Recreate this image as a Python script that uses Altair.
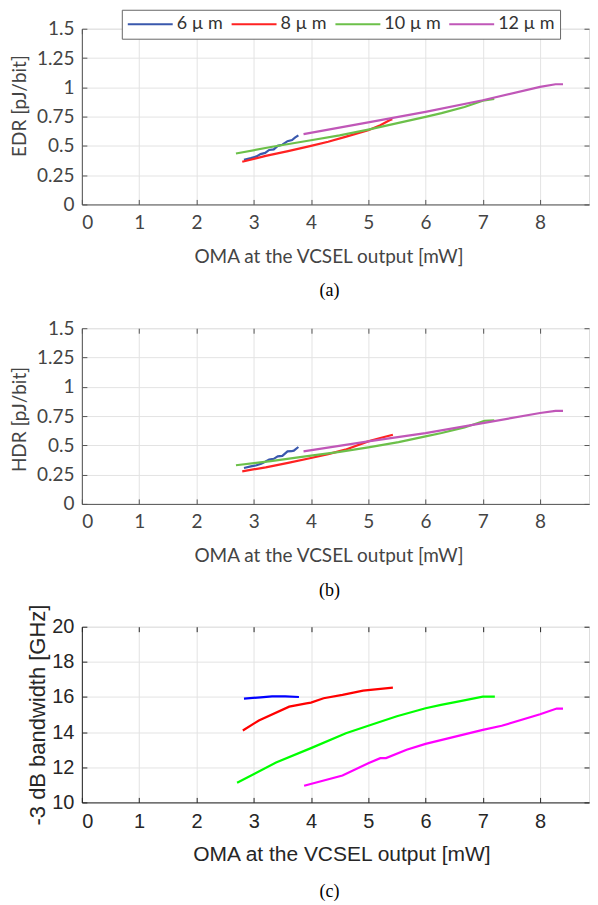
import altair as alt
import pandas as pd

sizes = ["6 µ m", "8 µ m", "10 µ m", "12 µ m"]
x_ticks = [0, 1, 2, 3, 4, 5, 6, 7, 8]
y_ticks_ab = [0, 0.25, 0.5, 0.75, 1, 1.25, 1.5]
y_ticks_c = [10, 12, 14, 16, 18, 20]

# Panel (a): EDR [pJ/bit]
edr_6_x = [2.83, 2.95, 3.05, 3.12, 3.2, 3.27, 3.35, 3.42, 3.5, 3.59, 3.67, 3.72, 3.78]
edr_6_y = [0.38, 0.395, 0.41, 0.43, 0.44, 0.465, 0.47, 0.50, 0.51, 0.54, 0.55, 0.57, 0.59]
edr_8_x = [2.80, 3.21, 3.6, 4.0, 4.3, 4.6, 5.0, 5.21, 5.38, 5.42]
edr_8_y = [0.364, 0.415, 0.455, 0.50, 0.535, 0.577, 0.634, 0.676, 0.720, 0.728]
edr_10_x = [2.69, 3.3, 4.0, 4.5, 5.0, 5.53, 6.0, 6.28, 6.68, 7.0, 7.2]
edr_10_y = [0.435, 0.49, 0.548, 0.59, 0.639, 0.696, 0.747, 0.78, 0.832, 0.885, 0.90]
edr_12_x = [3.87, 5.0, 6.0, 7.0, 8.0, 8.27, 8.4]
edr_12_y = [0.60, 0.70, 0.79, 0.889, 1.003, 1.026, 1.026]

# Panel (b): HDR [pJ/bit]
hdr_6_x = [2.83, 2.95, 3.05, 3.13, 3.2, 3.27, 3.35, 3.42, 3.5, 3.59, 3.66, 3.70, 3.78]
hdr_6_y = [0.307, 0.32, 0.33, 0.344, 0.36, 0.378, 0.385, 0.406, 0.41, 0.449, 0.45, 0.455, 0.486]
hdr_8_x = [2.80, 3.21, 3.6, 4.0, 4.3, 4.6, 5.0, 5.21, 5.43]
hdr_8_y = [0.278, 0.3125, 0.35, 0.392, 0.425, 0.463, 0.534, 0.5625, 0.59]
hdr_10_x = [2.69, 3.3, 4.0, 4.5, 5.0, 5.53, 6.0, 6.28, 6.68, 7.03, 7.2]
hdr_10_y = [0.33, 0.365, 0.412, 0.445, 0.483, 0.528, 0.577, 0.605, 0.653, 0.71, 0.713]
hdr_12_x = [3.87, 5.0, 6.0, 7.0, 8.0, 8.27, 8.4]
hdr_12_y = [0.449, 0.534, 0.605, 0.69, 0.776, 0.795, 0.795]

# Panel (c): -3 dB bandwidth [GHz]
bw_6_x = [2.83, 3.12, 3.32, 3.55, 3.79]
bw_6_y = [15.91, 15.98, 16.04, 16.03, 16.0]
bw_8_x = [2.81, 3.09, 3.62, 3.92, 4.0, 4.22, 4.55, 4.91, 5.43]
bw_8_y = [14.09, 14.66, 15.45, 15.64, 15.68, 15.93, 16.12, 16.36, 16.53]
bw_10_x = [2.71, 3.39, 4.0, 4.61, 5.0, 5.5, 6.0, 6.27, 6.63, 7.0, 7.21]
bw_10_y = [11.12, 12.27, 13.09, 13.94, 14.36, 14.9, 15.36, 15.55, 15.78, 16.02, 16.02]
bw_12_x = [3.88, 4.55, 5.0, 5.21, 5.31, 5.67, 6.0, 7.0, 7.33, 8.0, 8.29, 8.4]
bw_12_y = [10.95, 11.53, 12.23, 12.52, 12.52, 13.0, 13.33, 14.13, 14.36, 15.02, 15.34, 15.34]

colors_ab = ["#3a58ad", "#ff2222", "#6cc04a", "#c057b8"]
colors_c = ["#0000ff", "#ff0000", "#00ff00", "#ff00ff"]


def frame(series):
    rows = []
    for name, xs, ys in series:
        for x, y in zip(xs, ys):
            rows.append({"oma": x, "val": y, "size": name})
    return pd.DataFrame(rows)


df_a = frame([(sizes[0], edr_6_x, edr_6_y), (sizes[1], edr_8_x, edr_8_y),
              (sizes[2], edr_10_x, edr_10_y), (sizes[3], edr_12_x, edr_12_y)])
df_b = frame([(sizes[0], hdr_6_x, hdr_6_y), (sizes[1], hdr_8_x, hdr_8_y),
              (sizes[2], hdr_10_x, hdr_10_y), (sizes[3], hdr_12_x, hdr_12_y)])
df_c = frame([(sizes[0], bw_6_x, bw_6_y), (sizes[1], bw_8_x, bw_8_y),
              (sizes[2], bw_10_x, bw_10_y), (sizes[3], bw_12_x, bw_12_y)])

W, H = 508, 176
X_MAX = 8.854  # visible part of the 0..9 axis (right edge cropped as in the figure)


def panel(df, ytitle, ydom, yticks, colors, caption, font, fsize, tfsize, ytfsize,
          tcolor, dcolor, ytitle_x, ytitle_y, xtitle_x, show_legend, cap_offset):
    xs = alt.Scale(domain=[0, X_MAX], nice=False, zero=False)
    ys = alt.Scale(domain=ydom, nice=False, zero=False)
    if show_legend:
        legend = alt.Legend(
            orient="none", legendX=40, legendY=-19, direction="horizontal",
            columns=4, title=None, symbolType="stroke", symbolSize=2025,
            symbolStrokeWidth=2, labelFont="Lato", labelFontSize=18,
            labelColor="#333333", labelOffset=3, columnPadding=7,
            padding=5, strokeColor="#666666", fillColor="white",
            cornerRadius=0, labelLimit=200, clipHeight=19)
        color = alt.Color("size:N", scale=alt.Scale(domain=sizes, range=colors),
                          sort=sizes, legend=legend)
    else:
        color = alt.Color("size:N", scale=alt.Scale(domain=sizes, range=colors),
                          sort=sizes, legend=None)
    base = alt.Chart(df)
    lines = base.mark_line(strokeWidth=2.2).encode(
        x=alt.X("oma:Q", scale=xs, axis=alt.Axis(
            values=x_ticks, title="OMA at the VCSEL output [mW]", grid=True,
            ticks=False, domainColor=dcolor, gridColor="#e3e3e3",
            labelFont=font, labelFontSize=fsize, labelColor=tcolor,
            labelPadding=9, titleFont=font, titleFontSize=tfsize,
            titleColor=tcolor, titleFontWeight="normal", titleX=xtitle_x,
            titleY=58, titleBaseline="alphabetic", titleAlign="center",
            format="d")),
        y=alt.Y("val:Q", scale=ys, axis=alt.Axis(
            values=yticks, title=ytitle, grid=True, ticks=False,
            domainColor=dcolor, gridColor="#e3e3e3", labelFont=font,
            labelFontSize=fsize, labelColor=tcolor, labelPadding=8,
            titleFont=font, titleFontSize=ytfsize, titleColor=tcolor,
            titleFontWeight="normal", titleX=ytitle_x, titleY=ytitle_y,
            titleBaseline="alphabetic", titleAlign="center", format=".3~g")),
        color=color,
    )
    tick_axis = dict(labels=False, domain=False, grid=False, title=None,
                     ticks=True, tickSize=5, offset=-5, tickColor=dcolor)
    inner = base.mark_line(opacity=0).encode(
        x=alt.X("oma:Q", scale=xs, axis=alt.Axis(orient="bottom", values=x_ticks, **tick_axis)),
        y=alt.Y("val:Q", scale=ys, axis=alt.Axis(orient="left", values=yticks, **tick_axis)),
    )
    outer = base.mark_line(opacity=0).encode(
        x=alt.X("oma:Q", scale=xs, axis=alt.Axis(orient="top", values=x_ticks, **tick_axis)),
        y=alt.Y("val:Q", scale=ys, axis=alt.Axis(orient="right", values=yticks, **tick_axis)),
    )
    return alt.layer(lines, inner, outer).resolve_axis(
        x="independent", y="independent").properties(
        width=W, height=H,
        title=alt.TitleParams(caption, orient="bottom", font="Liberation Serif",
                              fontSize=18, fontWeight="normal", color="#000000",
                              anchor="middle", offset=cap_offset, dx=-6))


pa = panel(df_a, "EDR [pJ/bit]", [0, 1.5], y_ticks_ab, colors_ab, "(a)",
           "Lato", 19, 19, 19, "#444444", "#555555", -56, 77, 247, True, 16)
pb = panel(df_b, "HDR [pJ/bit]", [0, 1.5], y_ticks_ab, colors_ab, "(b)",
           "Lato", 19, 19, 19, "#444444", "#555555", -56, 91, 247, False, 16)
pc = panel(df_c, "-3 dB bandwidth [GHz]", [10, 20], y_ticks_c, colors_c, "(c)",
           "Liberation Sans", 20, 21, 22, "#262626", "#262626", -37, 88, 260, False, 19)

top = alt.vconcat(pa, pb, spacing=17)
chart = alt.vconcat(top, pc, spacing=2).resolve_scale(
    color="independent").properties(
    padding={"left": 2, "top": 0, "right": 0, "bottom": 0}
).configure_view(stroke="#555555", strokeWidth=1).configure(background="white")

chart.save("out.html", embed_options={"renderer": "svg", "actions": False})
